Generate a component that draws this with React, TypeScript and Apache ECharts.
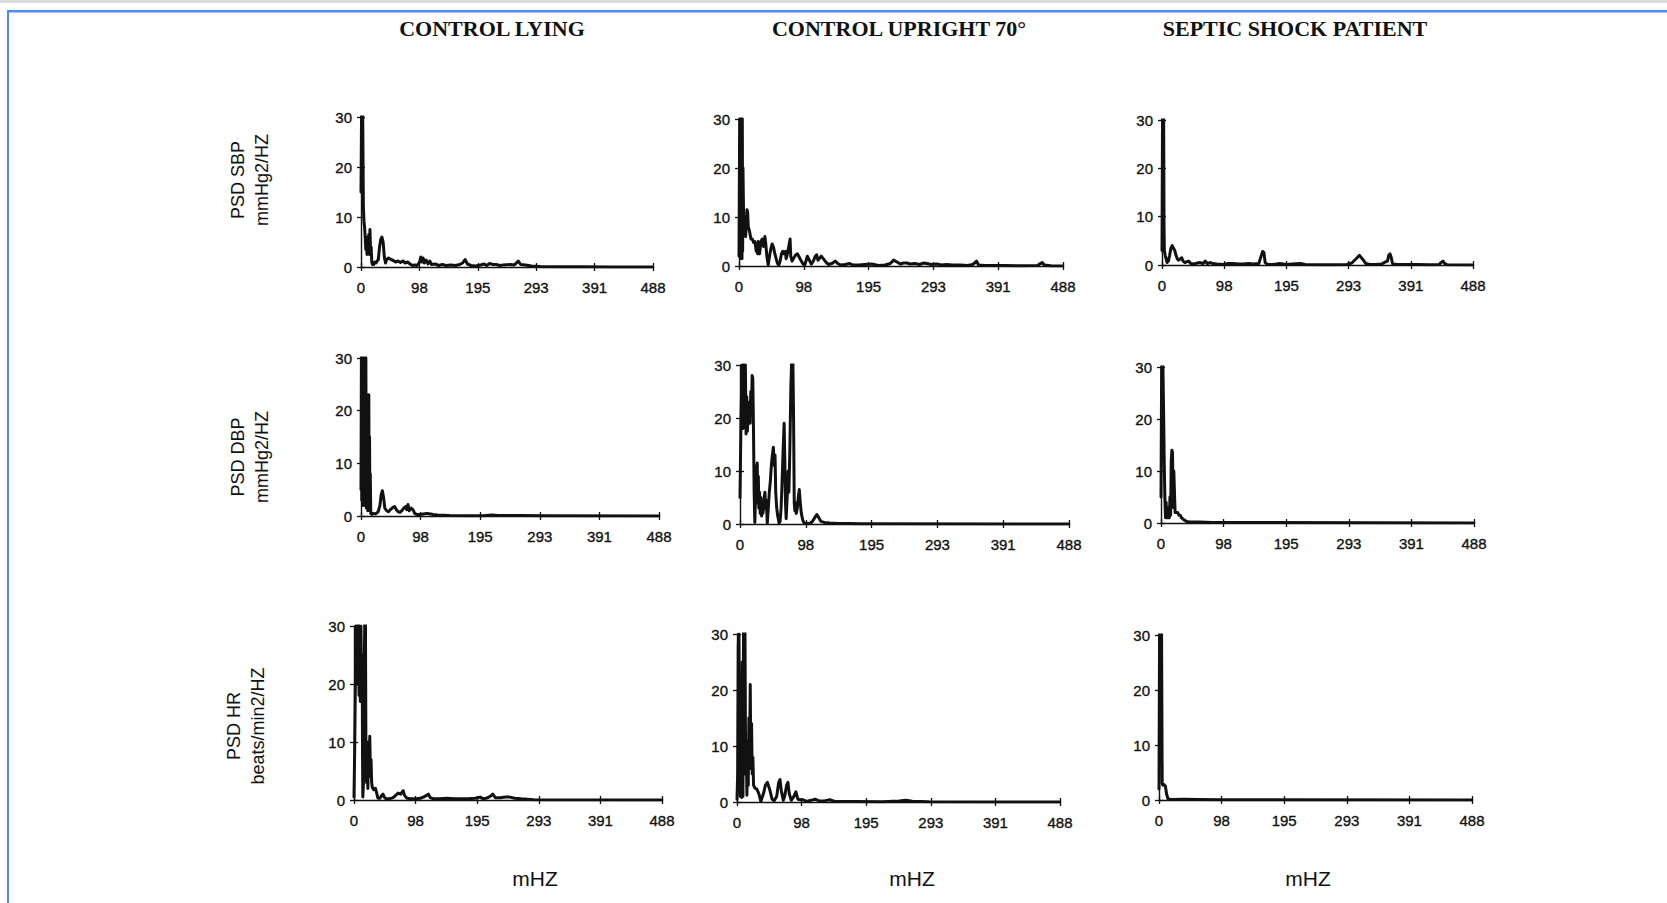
import React, { useEffect, useRef } from "react";
import * as echarts from "echarts";

// ---------- texts ----------
const columnTitles = ["CONTROL LYING", "CONTROL UPRIGHT 70°", "SEPTIC SHOCK PATIENT"];
const rowNames = [
  ["PSD SBP", "mmHg2/HZ"],
  ["PSD DBP", "mmHg2/HZ"],
  ["PSD HR", "beats/min2/HZ"],
];
const xUnit = "mHZ";

// ---------- axes ----------
const xMax = 488.28125;
const xStep = 97.65625; // ticks 0, 98, 195, 293, 391, 488
const yMax = 30;
const yStep = 10;

// ---------- data: [mHz, PSD] ----------
const sbpLying = [
  [0, 15], [1, 32], [2, 45], [3, 28], [4, 12], [5, 9], [6, 8], [7, 6], [8, 3.5], [9, 6], [10, 2.5], [11, 5.5],
  [12, 3], [13, 6.5], [14, 2.5], [15, 7.5], [16, 3], [17, 4], [18, 1], [19, 0.5], [21, 0.5], [23, 1], [25, 0.8],
  [27, 1.2], [29, 1.5], [31, 4], [33, 5.5], [35, 6], [37, 5], [39, 2], [41, 0.8], [43, 1.5], [46, 1.8], [50, 1.5],
  [54, 1.3], [58, 1], [62, 1.2], [66, 0.9], [70, 1.2], [74, 0.8], [78, 1], [82, 0.6], [86, 0.3], [90, 0.4],
  [94, 0.3], [98, 1], [100, 2], [102, 1], [104, 1.8], [106, 0.8], [109, 1.4], [112, 0.6], [115, 1.2], [118, 0.5],
  [124, 0.6], [130, 0.3], [136, 0.5], [142, 0.3], [150, 0.4], [158, 0.3], [165, 0.5], [170, 0.8], [174, 1.5],
  [178, 0.6], [184, 0.3], [192, 0.2], [200, 0.4], [206, 0.6], [210, 0.3], [215, 0.7], [221, 0.5], [226, 0.5],
  [232, 0.3], [238, 0.4], [250, 0.5], [256, 0.4], [260, 0.8], [263, 1.2], [267, 0.5], [275, 0.4], [285, 0.2],
  [300, 0.1], [330, 0.05], [370, 0.05], [420, 0], [488, 0],
];
const sbpUpright = [
  [0, 2], [1, 30], [1.5, 2], [2, 35], [2.5, 1.5], [3, 38], [3.5, 2], [4, 34], [4.5, 1.5], [5, 30], [5.5, 3],
  [6, 20], [7, 9], [8, 7], [9, 10], [10, 6], [11, 9], [12, 11.5], [13, 11], [14, 8], [16, 7], [18, 5.5], [20, 5.5],
  [22, 4.8], [24, 5], [26, 3], [27, 4.5], [28, 2.5], [29, 5], [30, 3], [31, 2.5], [33, 5], [35, 5.5], [37, 4],
  [39, 6], [40, 5], [42, 2], [44, 0.2], [46, 2], [48, 3.5], [50, 4.5], [52, 3.8], [54, 2.5], [56, 1.5], [58, 0.5],
  [60, 0.2], [62, 1], [64, 2.5], [66, 3], [68, 2.5], [70, 3], [71, 1.5], [73, 2.5], [75, 4], [77, 5.5], [78, 2],
  [80, 1], [82, 1.5], [85, 2.2], [88, 2.5], [90, 2], [93, 1.2], [96, 0.5], [99, 0.2], [101, 1], [103, 2],
  [106, 1.2], [109, 0.4], [112, 1], [115, 2], [117, 2.3], [119, 1.2], [121, 1.5], [124, 2], [127, 1.5], [131, 0.8],
  [135, 0.3], [140, 0.5], [145, 1], [149, 0.5], [153, 0.2], [160, 0.3], [167, 0.5], [172, 0.2], [180, 0.2],
  [190, 0.3], [200, 0.4], [210, 0.1], [220, 0.2], [228, 0.5], [233, 1.2], [238, 0.8], [243, 0.4], [248, 0.6],
  [253, 0.6], [258, 0.4], [265, 0.5], [272, 0.3], [278, 0.6], [283, 0.5], [290, 0.3], [298, 0.4], [305, 0.2],
  [313, 0.3], [322, 0.2], [333, 0.2], [345, 0.1], [352, 0.3], [356, 0.7], [358, 1], [361, 0.2], [370, 0.1],
  [400, 0.1], [430, 0.05], [450, 0.1], [454, 0.5], [457, 0.7], [460, 0.2], [470, 0.05], [488, 0],
];
const sbpSeptic = [
  [0, 3], [0.8, 30], [1.5, 40], [2.5, 35], [3.2, 8], [3.7, 3], [5, 2], [7, 1], [8, 0.5], [10, 0.8], [12, 2],
  [14, 3.5], [16, 4], [18, 3.5], [20, 3], [22, 2], [24, 1.3], [26, 1], [28, 1.2], [31, 1.5], [33, 0.8], [36, 0.5],
  [39, 0.7], [42, 0.8], [45, 0.3], [50, 0.2], [55, 0.4], [60, 0.5], [64, 0.3], [68, 0.8], [71, 0.3], [76, 0.5],
  [80, 0.3], [86, 0.2], [96, 0.1], [104, 0.3], [112, 0.3], [120, 0.2], [128, 0.2], [136, 0.3], [144, 0.2],
  [152, 0.3], [156, 2], [158, 2.8], [160, 2.6], [162, 0.5], [166, 0.1], [175, 0.1], [185, 0.3], [195, 0.1],
  [205, 0.2], [217, 0.3], [225, 0.1], [245, 0.05], [270, 0.05], [290, 0.1], [298, 0.4], [304, 1.2], [310, 2],
  [315, 1.2], [320, 0.3], [326, 0.1], [335, 0.1], [345, 0.2], [350, 0.6], [354, 0.8], [356, 2], [358, 2.3],
  [360, 1.5], [362, 0.2], [370, 0.1], [400, 0.1], [420, 0.05], [435, 0.1], [438, 0.5], [441, 0.8], [444, 0.3],
  [448, 0.05], [488, 0],
];
const dbpLying = [
  [0, 5], [0.7, 32], [1.3, 3], [2, 35], [2.6, 2], [3.2, 34], [3.8, 2.5], [4.4, 36], [5, 2], [5.6, 33], [6.2, 3],
  [6.8, 31], [7.4, 2], [8, 30], [8.6, 1.5], [9.2, 23], [9.8, 1.5], [10.4, 23], [11, 1], [11.6, 22], [12.2, 1.5],
  [12.8, 23], [13.4, 2], [14, 15], [14.6, 1], [15.2, 8], [16, 0.5], [18, 0.3], [20, 0.5], [24, 0.4], [28, 0.8],
  [31, 2], [33, 4], [35, 4.8], [37, 3.5], [39, 1.5], [42, 1], [45, 0.8], [48, 1.2], [52, 1.6], [55, 1.8],
  [58, 1.2], [61, 0.8], [64, 0.7], [67, 1], [70, 1.5], [73, 1.8], [75, 1.2], [77, 2.2], [79, 1], [82, 1.5],
  [85, 1.2], [88, 0.5], [91, 0.3], [96, 0.3], [102, 0.4], [108, 0.5], [114, 0.4], [118, 0.3], [125, 0.2],
  [135, 0.15], [145, 0.1], [170, 0.05], [200, 0.05], [215, 0.2], [225, 0.1], [260, 0.1], [300, 0.05], [488, 0],
];
const dbpUpright = [
  [0, 5], [1.5, 20], [3, 30], [4.5, 18], [6, 35], [7, 20], [8, 30], [9, 17], [10, 24], [11, 17.5], [12, 23],
  [13, 19], [14, 22], [15, 19], [16, 25], [17, 21], [18, 28], [19, 27.5], [20, 18], [21, 6], [22, 0.3], [23, 5],
  [24, 11], [24.8, 4], [25.6, 11.5], [26.4, 4], [27.2, 9], [28, 3], [29, 6], [30, 2], [31, 5], [32, 1.5], [33, 4],
  [34, 2], [35, 3], [36, 5], [37, 6], [38, 3], [39, 4.5], [40.5, 0.1], [42, 3], [43.5, 6], [45, 8], [46.5, 11],
  [48, 13], [49.5, 14.5], [51, 11], [52, 13], [53, 6], [54.5, 3], [56, 1.5], [58, 0.2], [59.5, 0.5], [61, 3],
  [62.5, 8], [64, 14], [65.5, 19], [66.5, 12], [67.5, 4], [68.5, 1], [70, 5], [71.5, 10], [72.5, 6], [73.5, 11],
  [74.5, 18], [75.5, 26], [76.5, 30], [77.5, 33], [78.5, 31], [79.5, 20], [80.5, 4], [81.5, 2.5], [82.5, 4],
  [83.5, 2], [85, 3], [86.5, 5], [88, 6.5], [89.5, 4], [91, 2], [93, 0.8], [95, 0.2], [98, 0.1], [103, 0.1],
  [107, 0.4], [111, 1.2], [114, 1.8], [117, 1.2], [120, 0.5], [125, 0.3], [133, 0.2], [145, 0.1], [160, 0.1],
  [180, 0.05], [488, 0],
];
const dbpSeptic = [
  [0, 5], [1, 30], [2, 40], [3, 30], [4, 22], [5, 12], [6, 5], [7, 1], [8, 4], [9, 1], [10, 3], [11, 1], [12, 2],
  [13, 1], [14, 5], [15, 1.5], [16, 12], [17, 14], [18, 13.5], [19, 3], [20, 10], [21, 6], [22, 2], [24, 2],
  [26, 2], [28, 1.5], [30, 1.5], [32, 1], [34, 0.8], [36, 0.6], [40, 0.3], [45, 0.2], [60, 0.2], [80, 0.1],
  [488, 0],
];
const hrLying = [
  [0, 0.5], [1, 8], [2, 18], [3, 30], [4, 22], [5, 35], [6, 20], [7, 32], [8, 18], [9, 30], [10, 17], [11, 30],
  [12, 20], [13, 25], [13.5, 8], [14, 0.5], [15, 3], [16, 20], [17, 30], [18, 35], [19, 6], [20, 3], [21, 8],
  [22, 2], [23, 10], [24, 4], [25, 11], [26, 5], [27, 7], [28, 3], [29, 2.2], [31, 1.8], [34, 2], [36, 1.2],
  [38, 0.3], [41, 0.3], [44, 0.8], [46, 1], [48, 0.5], [51, 0.2], [56, 0.2], [62, 0.4], [66, 0.8], [70, 1.2],
  [74, 1], [78, 1.6], [80, 0.8], [84, 0.3], [90, 0.2], [99, 0.2], [105, 0.3], [110, 0.5], [115, 0.8], [118, 1],
  [121, 0.4], [126, 0.2], [135, 0.2], [147, 0.3], [160, 0.2], [180, 0.2], [192, 0.3], [200, 0.5], [205, 0.2],
  [212, 0.4], [217, 0.7], [220, 1], [224, 0.4], [232, 0.4], [240, 0.5], [247, 0.5], [255, 0.3], [265, 0.2],
  [285, 0.05], [488, 0],
];
const hrUpright = [
  [0, 0.5], [1, 5], [2, 28], [3, 30], [4, 7], [5, 1], [6, 10], [7, 0.8], [8, 25], [9, 1], [10, 35], [11, 5],
  [12, 32], [13, 8], [14, 11], [15, 1.2], [16, 10], [17, 3], [18, 15], [19, 8], [20, 21], [21, 6], [22, 14],
  [23, 5], [24, 8], [25, 3], [27, 2.5], [30, 2.3], [33, 1.5], [36, 0.1], [40, 1.5], [43, 3], [46, 3.5], [50, 2],
  [53, 0.5], [56, 0.2], [60, 1], [63, 3.5], [65, 4], [67, 2], [70, 0.3], [72, 1], [75, 3], [77, 3.5], [79, 1.5],
  [82, 0.3], [86, 1], [89, 1.8], [92, 0.5], [96, 0.4], [100, 0.4], [105, 0.1], [112, 0.3], [118, 0.5],
  [124, 0.2], [132, 0.2], [140, 0.4], [148, 0.1], [180, 0.1], [220, 0.05], [245, 0.2], [255, 0.3], [265, 0.15],
  [290, 0.05], [488, 0],
];
const hrSeptic = [
  [0, 2], [1, 35], [2, 40], [3, 35], [4, 30], [5, 3], [6, 2.7], [8, 2.8], [10, 2.5], [12, 1], [14, 0.2],
  [20, 0.1], [40, 0.15], [60, 0.1], [100, 0.05], [488, 0],
];

const panels = [sbpLying, sbpUpright, sbpSeptic, dbpLying, dbpUpright, dbpSeptic, hrLying, hrUpright, hrSeptic];

// ---------- layout (pixels) ----------
const gridBoxes = [
  { left: 361, top: 117, width: 292, height: 150 },
  { left: 739, top: 119, width: 324, height: 147 },
  { left: 1162, top: 120, width: 311, height: 145 },
  { left: 361, top: 358, width: 298, height: 158 },
  { left: 740, top: 365, width: 329, height: 159 },
  { left: 1161, top: 367, width: 313, height: 156 },
  { left: 354, top: 626, width: 308, height: 174 },
  { left: 737, top: 634, width: 323, height: 168 },
  { left: 1159, top: 635, width: 313, height: 165 },
];
const titleCenters = [492, 899, 1295];
const unitCenters = [535, 912, 1308];
const rowLabelPos = [
  { x: 238, y: 180 },
  { x: 238, y: 457 },
  { x: 234, y: 726 },
];

const INK = "#111";
const SANS = "'Liberation Sans', Arial, sans-serif";
const SERIF = "'Liberation Serif', 'Times New Roman', serif";

function buildOption() {
  const n = panels.length;
  const xAxes: any[] = [];
  const yAxes: any[] = [];
  const tickLabel = {
    color: INK, fontSize: 15, fontFamily: SANS, textBorderColor: INK, textBorderWidth: 0.35,
  };
  for (let i = 0; i < n; i++) {
    xAxes.push({
      type: "value", gridIndex: i, min: 0, max: xMax, interval: xStep,
      axisLine: { show: true, lineStyle: { color: INK, width: 1.4 } },
      axisTick: { show: true, inside: false, length: 4, lineStyle: { color: INK, width: 1.3 } },
      axisLabel: { show: true, margin: 13, ...tickLabel,
        formatter: (v: number) => String(Math.round(v)) },
      splitLine: { show: false },
    });
    yAxes.push({
      type: "value", gridIndex: i, min: 0, max: yMax, interval: yStep,
      axisLine: { show: true, lineStyle: { color: INK, width: 1.4 } },
      axisTick: { show: true, inside: false, length: 4, lineStyle: { color: INK, width: 1.3 } },
      axisLabel: { show: true, margin: 9, ...tickLabel },
      splitLine: { show: false },
    });
  }
  // inner halves of the cross ticks
  for (let i = 0; i < n; i++) {
    xAxes.push({
      type: "value", gridIndex: i, min: 0, max: xMax, interval: xStep, position: "bottom",
      axisLine: { show: false }, axisLabel: { show: false }, splitLine: { show: false },
      axisTick: { show: true, inside: true, length: 4, lineStyle: { color: INK, width: 1.3 } },
    });
    yAxes.push({
      type: "value", gridIndex: i, min: 0, max: yMax, interval: yStep, position: "left",
      axisLine: { show: false }, axisLabel: { show: false }, splitLine: { show: false },
      axisTick: { show: true, inside: true, length: 4, lineStyle: { color: INK, width: 1.3 } },
    });
  }

  const graphic: any[] = [
    { type: "rect", shape: { x: 0, y: 0, width: 1667, height: 3 }, style: { fill: "#d9dadb" }, silent: true },
    { type: "rect", shape: { x: 7, y: 10, width: 1660, height: 2.5 }, style: { fill: "#4d8bf2" }, silent: true },
    { type: "rect", shape: { x: 7, y: 10, width: 2, height: 893 }, style: { fill: "#4d8bf2" }, silent: true },
  ];
  columnTitles.forEach((t, i) => {
    graphic.push({
      type: "text", x: titleCenters[i], y: 28,
      style: { text: t, fill: INK, font: `bold 22px ${SERIF}`, textAlign: "center", textVerticalAlign: "middle" },
    });
  });
  unitCenters.forEach((cx) => {
    graphic.push({
      type: "text", x: cx, y: 878,
      style: { text: xUnit, fill: INK, font: `21px ${SANS}`, textAlign: "center", textVerticalAlign: "middle" },
    });
  });
  rowNames.forEach((lines, r) => {
    lines.forEach((line, k) => {
      graphic.push({
        type: "text", x: rowLabelPos[r].x + k * 24, y: rowLabelPos[r].y, rotation: Math.PI / 2,
        style: { text: line, fill: INK, font: `18px ${SANS}`, textAlign: "center", textVerticalAlign: "middle" },
      });
    });
  });

  return {
    animation: false,
    backgroundColor: "#ffffff",
    grid: gridBoxes.map((g) => ({ ...g, containLabel: false })),
    xAxis: xAxes,
    yAxis: yAxes,
    series: panels.map((d, i) => ({
      type: "line", xAxisIndex: i, yAxisIndex: i, data: d, showSymbol: false, symbol: "none",
      clip: true, silent: true,
      lineStyle: { color: INK, width: 3, join: "round", cap: "round" },
    })),
    graphic,
  };
}

export default function App() {
  const ref = useRef<HTMLDivElement>(null);
  useEffect(() => {
    if (!ref.current) return;
    const chart = echarts.init(ref.current, undefined, { renderer: "svg" });
    chart.setOption(buildOption() as any);
    return () => chart.dispose();
  }, []);
  return (
    <div
      ref={ref}
      style={{ position: "fixed", left: 0, top: 0, width: 1667, height: 903, background: "#fff" }}
    />
  );
}
